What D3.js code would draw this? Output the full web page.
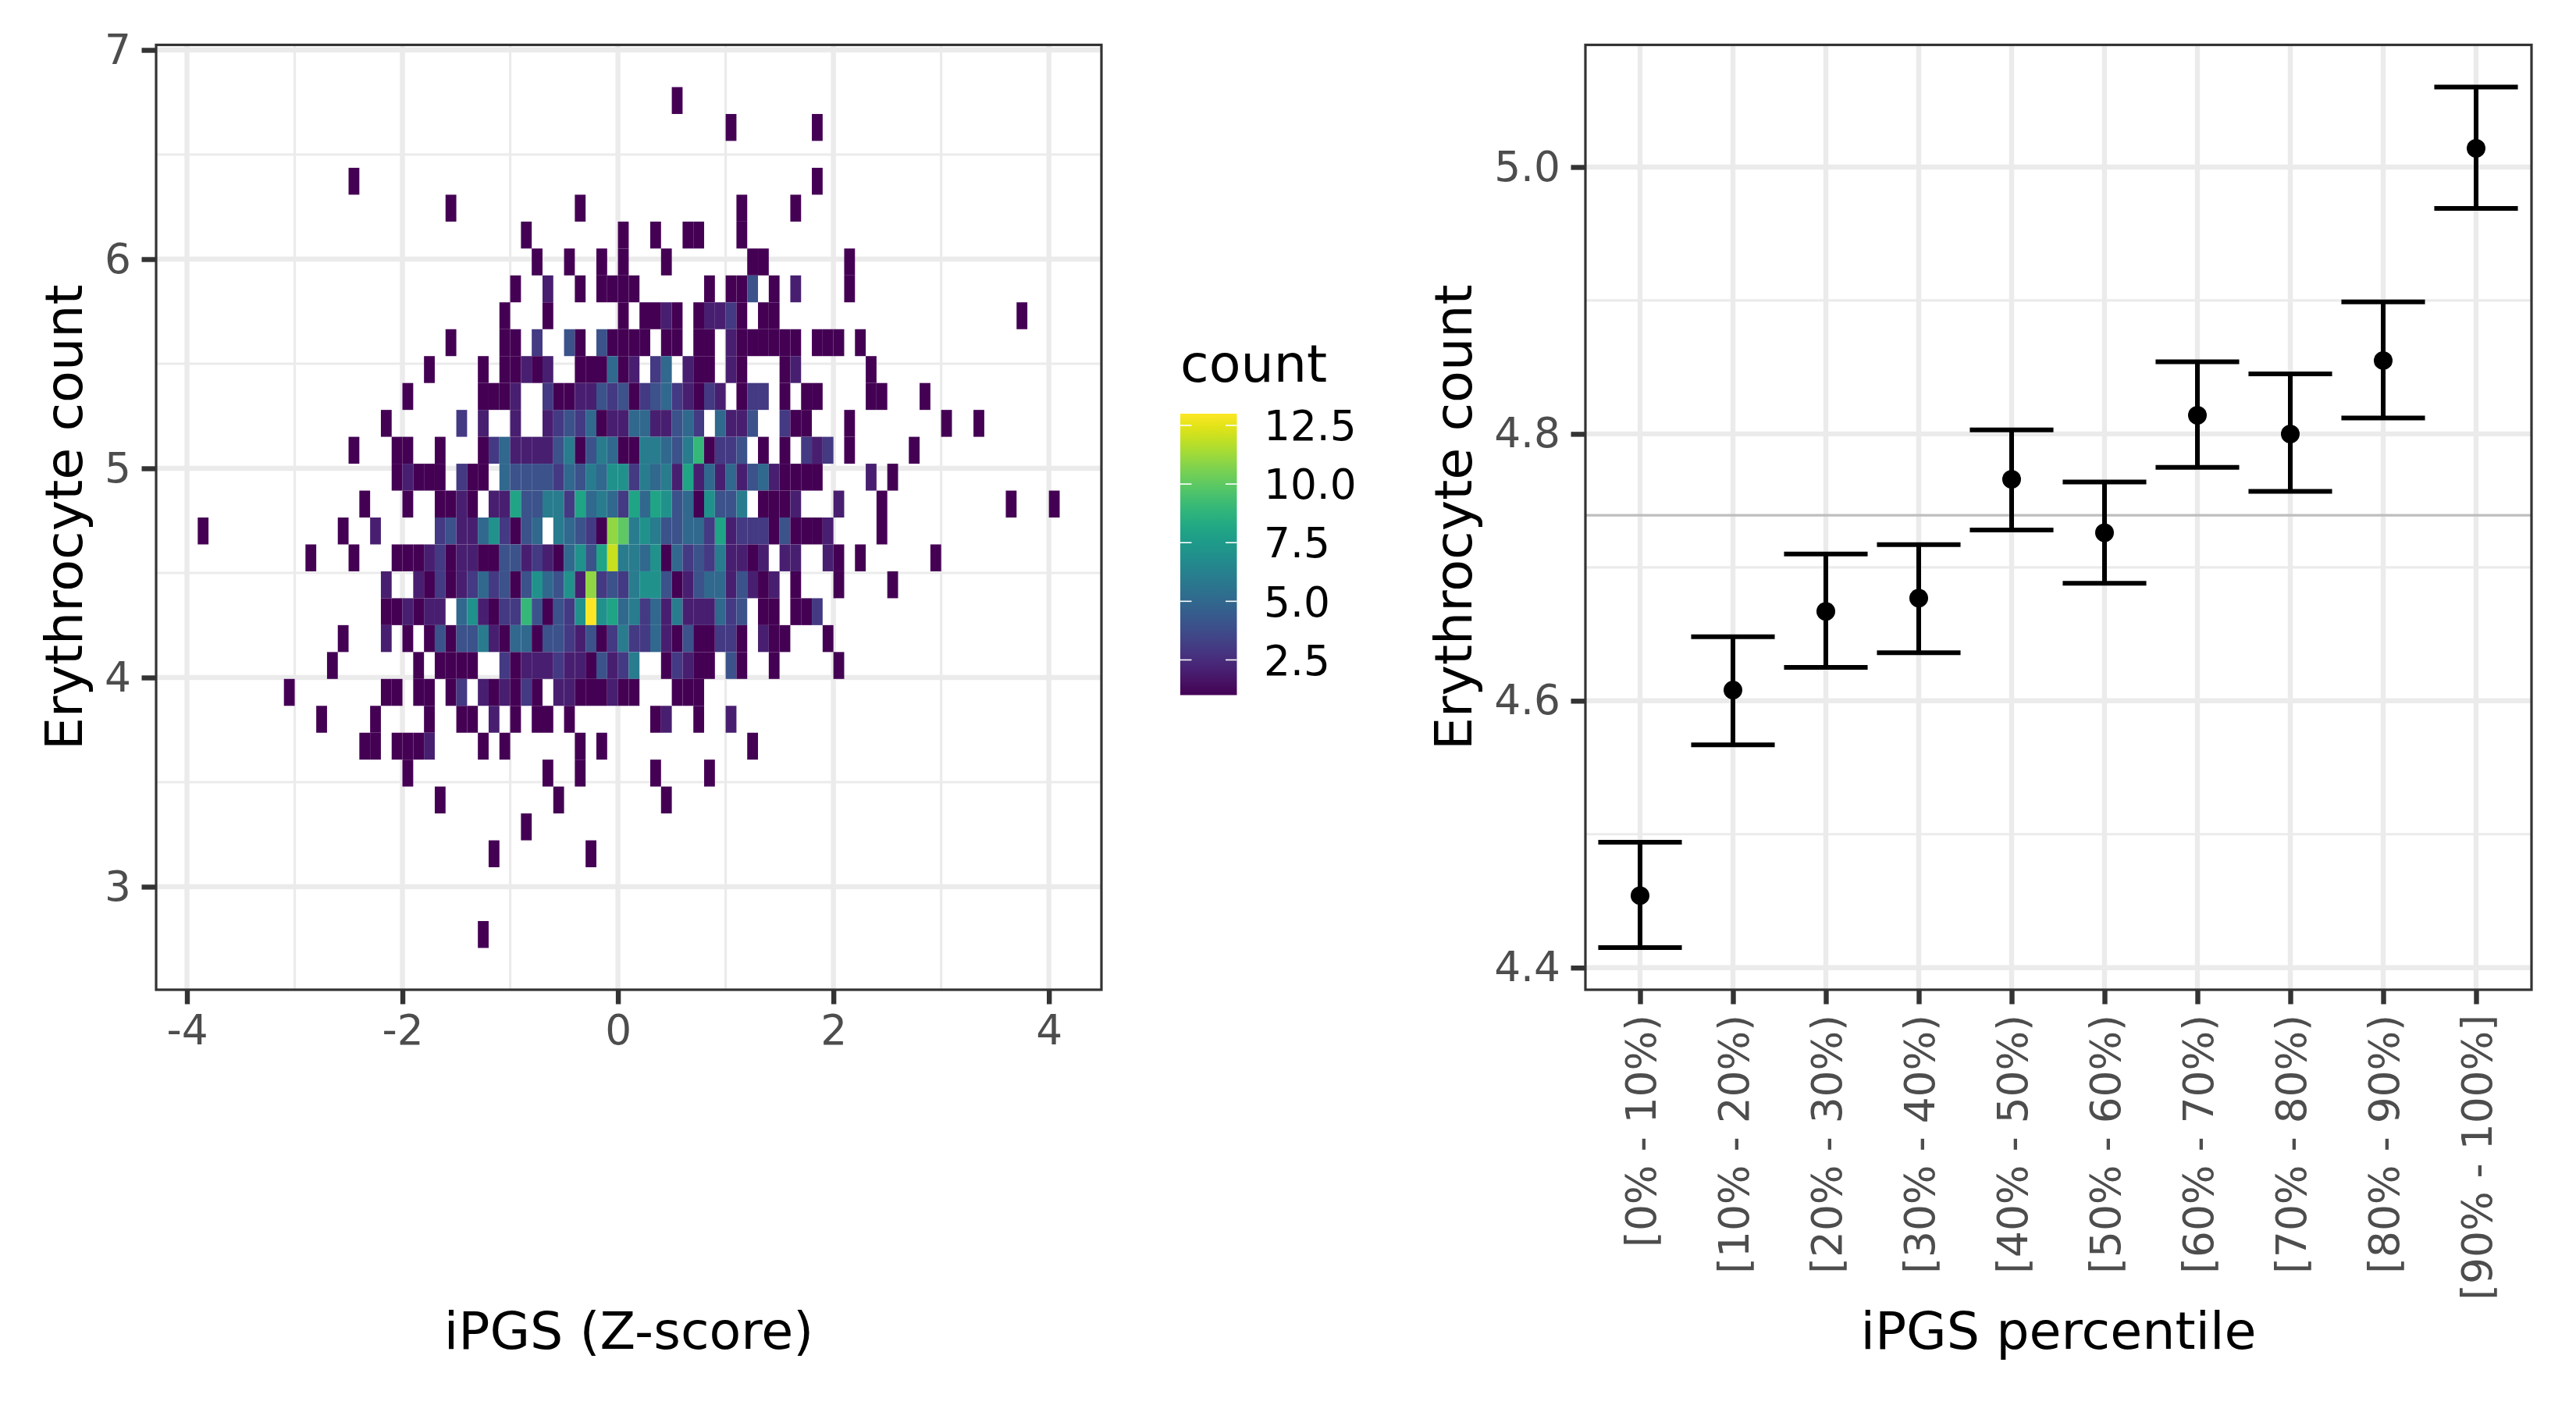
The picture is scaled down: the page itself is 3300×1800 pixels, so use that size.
<!DOCTYPE html>
<html>
<head>
<meta charset="utf-8">
<script src="https://cdn.jsdelivr.net/npm/d3@7"></script>
<style>
html,body{margin:0;padding:0;background:#fff}
svg{display:block}
text{font-family:"DejaVu Sans",sans-serif}
</style>
</head>
<body>
<div id="chart"></div>
<script>
// ---- left panel data: one list per row of bins (top to bottom), each [column, count];
// a column c spans c/10 .. (c+1)/10 on the iPGS axis
const heatRows = [
/*00*/[[5,1]],
/*01*/[[10,1],[18,1]],
/*02*/[],
/*03*/[[-25,1],[18,1]],
/*04*/[[-16,1],[-4,1],[11,1],[16,1]],
/*05*/[[-9,1],[0,1],[3,1],[6,1],[7,1],[11,1]],
/*06*/[[-8,1],[-5,1],[-2,1],[0,1],[4,1],[12,1],[13,1],[21,1]],
/*07*/[[-10,1],[-7,2],[-4,1],[-2,1],[-1,1],[0,1],[1,1],[8,1],[10,1],[11,1],[12,4],[14,1],[16,2],[21,1]],
/*08*/[[-11,1],[-7,1],[0,1],[2,1],[3,1],[4,2],[5,1],[7,1],[8,2],[9,2],[10,3],[11,1],[13,1],[14,1],[37,1]],
/*09*/[[-16,1],[-11,1],[-10,1],[-8,3],[-5,4],[-4,1],[-2,4],[-1,1],[0,1],[1,1],[2,1],[4,1],[5,1],[7,1],[8,1],[10,2],[11,1],[12,1],[13,1],[14,1],[15,1],[16,1],[18,1],[19,1],[20,1],[22,1]],
/*10*/[[-18,1],[-13,1],[-11,1],[-10,1],[-9,2],[-8,1],[-7,2],[-4,1],[-3,1],[-2,1],[-1,5],[0,1],[1,2],[3,3],[4,5],[6,2],[7,1],[8,1],[10,2],[11,1],[15,1],[16,2],[23,1]],
/*11*/[[-20,1],[-13,1],[-12,1],[-11,1],[-10,2],[-7,3],[-6,1],[-5,1],[-4,2],[-3,2],[-2,4],[-1,3],[0,4],[1,1],[2,3],[3,4],[4,5],[5,3],[6,2],[7,1],[8,3],[9,2],[11,1],[12,3],[13,3],[15,1],[17,1],[18,1],[23,1],[24,1],[28,1]],
/*12*/[[-22,1],[-15,3],[-13,2],[-10,2],[-7,2],[-6,3],[-5,4],[-4,3],[-3,5],[-2,1],[-1,2],[0,2],[1,5],[2,5],[3,2],[4,2],[5,4],[6,5],[7,3],[9,5],[10,2],[11,2],[12,4],[15,3],[16,1],[17,1],[21,1],[30,1],[33,1]],
/*13*/[[-25,1],[-21,1],[-20,1],[-17,1],[-13,1],[-12,3],[-11,5],[-10,2],[-9,2],[-8,2],[-7,2],[-6,4],[-5,6],[-4,1],[-3,4],[-2,6],[-1,5],[0,1],[1,1],[2,6],[3,6],[4,5],[5,4],[6,6],[7,9],[8,1],[9,3],[10,3],[11,4],[13,1],[15,1],[17,3],[18,2],[19,3],[21,1],[27,1]],
/*14*/[[-21,1],[-20,2],[-19,1],[-18,1],[-17,1],[-15,3],[-14,1],[-13,1],[-11,5],[-10,4],[-9,4],[-8,4],[-7,4],[-6,3],[-5,5],[-4,4],[-3,6],[-2,5],[-1,7],[0,7],[1,3],[2,6],[3,5],[4,6],[5,2],[6,8],[7,2],[8,5],[9,2],[10,5],[11,2],[12,4],[13,5],[14,2],[15,1],[16,1],[17,1],[18,1],[23,2],[25,1]],
/*15*/[[-24,1],[-20,1],[-17,1],[-16,1],[-15,2],[-14,1],[-12,2],[-11,2],[-10,8],[-9,4],[-8,4],[-7,6],[-6,6],[-5,3],[-4,8],[-3,5],[-2,6],[-1,5],[0,3],[1,8],[2,5],[3,8],[4,7],[5,4],[6,5],[7,1],[8,7],[9,4],[10,4],[11,6],[13,1],[14,1],[15,1],[16,2],[20,2],[24,1],[36,1],[40,1]],
/*16*/[[-39,1],[-26,1],[-23,2],[-17,3],[-16,4],[-15,2],[-14,2],[-13,5],[-12,7],[-11,3],[-10,1],[-9,4],[-8,5],[-6,6],[-5,5],[-4,4],[-3,3],[-2,1],[-1,11],[0,10],[1,6],[2,7],[3,6],[4,4],[5,4],[6,5],[7,5],[8,3],[9,8],[10,2],[11,3],[12,3],[13,3],[14,1],[15,4],[16,1],[17,1],[18,1],[19,2],[24,1]],
/*17*/[[-29,1],[-25,1],[-21,1],[-20,1],[-19,1],[-18,2],[-17,3],[-16,1],[-15,2],[-14,2],[-13,1],[-12,1],[-11,4],[-10,4],[-9,2],[-8,3],[-7,2],[-6,1],[-5,5],[-4,7],[-3,4],[-2,8],[-1,12],[0,6],[1,6],[2,5],[3,7],[4,1],[5,5],[6,3],[7,4],[8,3],[9,6],[10,2],[11,2],[12,1],[13,2],[15,2],[16,2],[19,2],[20,1],[22,1],[29,1]],
/*18*/[[-22,2],[-19,2],[-18,1],[-17,3],[-16,1],[-15,2],[-14,3],[-13,5],[-12,3],[-11,4],[-10,1],[-9,4],[-8,7],[-7,5],[-6,4],[-5,7],[-4,2],[-3,11],[-2,3],[-1,4],[0,3],[1,6],[2,7],[3,7],[4,4],[5,1],[6,2],[7,4],[8,5],[9,5],[10,2],[11,4],[12,2],[13,1],[14,2],[16,1],[20,1],[25,1]],
/*19*/[[-22,1],[-21,1],[-20,2],[-19,1],[-18,2],[-17,2],[-15,5],[-14,7],[-13,2],[-12,1],[-11,3],[-10,3],[-9,9],[-8,4],[-7,1],[-6,4],[-5,3],[-4,7],[-3,13],[-2,7],[-1,8],[0,5],[1,6],[2,3],[3,5],[4,2],[5,6],[6,2],[7,2],[8,2],[9,5],[10,3],[11,4],[13,1],[14,1],[16,1],[17,1],[18,3]],
/*20*/[[-26,1],[-22,2],[-20,1],[-18,1],[-17,4],[-16,1],[-15,4],[-14,4],[-13,6],[-12,2],[-11,1],[-10,5],[-9,5],[-8,1],[-7,4],[-6,4],[-5,3],[-4,2],[-3,4],[-2,1],[-1,3],[0,6],[1,3],[2,3],[3,5],[4,2],[5,1],[6,4],[7,1],[8,1],[9,3],[10,3],[11,1],[13,2],[14,1],[15,1],[19,1]],
/*21*/[[-27,1],[-19,1],[-17,1],[-16,1],[-15,1],[-14,1],[-11,3],[-10,1],[-9,2],[-8,2],[-7,2],[-6,3],[-5,2],[-4,2],[-3,1],[-2,4],[-1,2],[0,3],[1,6],[4,1],[5,3],[6,2],[7,1],[8,1],[10,4],[11,1],[14,1],[20,1]],
/*22*/[[-31,1],[-22,1],[-21,1],[-19,1],[-18,1],[-16,1],[-15,3],[-13,2],[-12,1],[-11,2],[-10,1],[-9,3],[-8,1],[-6,2],[-5,2],[-4,1],[-3,1],[-2,1],[-1,2],[0,1],[1,1],[5,1],[6,1],[7,1]],
/*23*/[[-28,1],[-23,1],[-18,1],[-15,1],[-14,1],[-12,2],[-10,1],[-8,1],[-7,1],[-5,1],[3,1],[4,2],[7,1],[10,2]],
/*24*/[[-24,1],[-23,1],[-21,1],[-20,1],[-19,1],[-18,2],[-13,1],[-11,1],[-4,1],[-2,1],[12,1]],
/*25*/[[-20,1],[-7,1],[-4,1],[3,1],[8,1]],
/*26*/[[-17,1],[-6,1],[4,1]],
/*27*/[[-9,1]],
/*28*/[[-12,1],[-3,1]],
/*29*/[],
/*30*/[],
/*31*/[[-13,1]]
];
const binTop = 6.8225, binHeight = 0.1286, binWidth = 0.1;
const heatXTicks = [-4,-2,0,2,4], heatXMinor = [-3,-1,1,3];
const heatYTicks = [3,4,5,6,7], heatYMinor = [3.5,4.5,5.5,6.5];
const legendTicks = [2.5,5,7.5,10,12.5];
const legendLimits = [1,13];

// ---- right panel data
const percentileLabels = ["[0% - 10%)","[10% - 20%)","[20% - 30%)","[30% - 40%)","[40% - 50%)","[50% - 60%)","[60% - 70%)","[70% - 80%)","[80% - 90%)","[90% - 100%]"];
const meanValues = [4.454,4.608,4.667,4.677,4.766,4.726,4.814,4.800,4.855,5.014];
const lowerValues = [4.415,4.567,4.625,4.636,4.728,4.688,4.775,4.757,4.812,4.969];
const upperValues = [4.494,4.648,4.710,4.717,4.803,4.764,4.854,4.845,4.899,5.060];
const overallMean = 4.739;
const meanYTicks = [4.4,4.6,4.8,5.0], meanYMinor = [4.5,4.7,4.9];

const W = 3300, H = 1800;
const svg = d3.select("#chart").append("svg").attr("width",W).attr("height",H).attr("viewBox",`0 0 ${W} ${H}`);
const GRID="#EBEBEB", MAJOR=6.4, MINOR=3.2, BORDER="#333333", TICKTXT="#4D4D4D";
const TICKFONT=53.33, TITLEFONT=66.67;
const TICKLEN=18.5, TICKPAD=13.5;

function panelFrame(g,box){
  g.append("rect").attr("x",box.l).attr("y",box.t).attr("width",box.r-box.l).attr("height",box.b-box.t)
    .attr("fill","none").attr("stroke",BORDER).attr("stroke-width",3.2);
}
function grid(g,box,xs,ys){
  g.selectAll(null).data(xs).join("line").attr("x1",d=>d.x).attr("x2",d=>d.x).attr("y1",box.t).attr("y2",box.b)
    .attr("stroke",GRID).attr("stroke-width",d=>d.w);
  g.selectAll(null).data(ys).join("line").attr("y1",d=>d.y).attr("y2",d=>d.y).attr("x1",box.l).attr("x2",box.r)
    .attr("stroke",GRID).attr("stroke-width",d=>d.w);
}
function styleAxis(a){
  a.select(".domain").remove();
  a.selectAll(".tick line").attr("stroke",BORDER).attr("stroke-width",6.4);
  a.selectAll(".tick text").attr("fill",TICKTXT).style("font-size",TICKFONT+"px").style("font-family",'"DejaVu Sans"');
}

// ================= LEFT =================
const LB={l:200,r:1411,t:57.5,b:1268};
const xL=d3.scaleLinear().domain([-4,4]).range([239.5,1343.7]);
const yL=d3.scaleLinear().domain([3,7]).range([1136,64]);
const colour=d3.scaleSequential(d3.interpolateViridis).domain(legendLimits);
const gL=svg.append("g");
grid(gL,LB,
  heatXMinor.map(v=>({x:xL(v),w:MINOR})).concat(heatXTicks.map(v=>({x:xL(v),w:MAJOR}))),
  heatYMinor.map(v=>({y:yL(v),w:MINOR})).concat(heatYTicks.map(v=>({y:yL(v),w:MAJOR}))));
const cells=heatRows.flatMap((row,r)=>row.map(([c,n])=>({c,n,r})));
gL.selectAll("rect.cell").data(cells).join("rect").attr("class","cell")
  .attr("x",d=>xL(d.c*binWidth))
  .attr("width",d=>xL((d.c+1)*binWidth)-xL(d.c*binWidth))
  .attr("y",d=>yL(binTop-d.r*binHeight))
  .attr("height",d=>yL(binTop-(d.r+1)*binHeight)-yL(binTop-d.r*binHeight))
  .attr("fill",d=>colour(d.n));
panelFrame(gL,LB);
const axXL=svg.append("g").attr("transform",`translate(0,${LB.b})`)
  .call(d3.axisBottom(xL).tickValues(heatXTicks).tickSize(TICKLEN).tickPadding(TICKPAD).tickFormat(d=>d<0?"-"+Math.abs(d):d));
styleAxis(axXL);
const axYL=svg.append("g").attr("transform",`translate(${LB.l},0)`)
  .call(d3.axisLeft(yL).tickValues(heatYTicks).tickSize(TICKLEN).tickPadding(TICKPAD).tickFormat(d3.format("d")));
styleAxis(axYL);
svg.append("text").attr("x",(LB.l+LB.r)/2).attr("y",1728).attr("text-anchor","middle").style("font-size",TITLEFONT+"px").attr("fill","#000").text("iPGS (Z-score)");
svg.append("text").attr("transform",`translate(104.5,${(LB.t+LB.b)/2}) rotate(-90)`).attr("text-anchor","middle").style("font-size",TITLEFONT+"px").attr("fill","#000").text("Erythrocyte count");

// legend
const LG={l:1512,r:1584.5,t:530,b:890.5};
const yLeg=d3.scaleLinear().domain(legendLimits).range([LG.b,LG.t]);
const defs=svg.append("defs");
const lg=defs.append("linearGradient").attr("id","vir").attr("x1",0).attr("x2",0).attr("y1",1).attr("y2",0);
d3.range(0,1.0001,0.05).forEach(t=>lg.append("stop").attr("offset",t).attr("stop-color",d3.interpolateViridis(t)));
svg.append("rect").attr("x",LG.l).attr("y",LG.t).attr("width",LG.r-LG.l).attr("height",LG.b-LG.t).attr("fill","url(#vir)");
const legG=svg.append("g");
legG.selectAll("line.a").data(legendTicks).join("line").attr("class","a").attr("x1",LG.l).attr("x2",LG.l+14.5).attr("y1",d=>yLeg(d)).attr("y2",d=>yLeg(d)).attr("stroke","#fff").attr("stroke-width",1.6);
legG.selectAll("line.b").data(legendTicks).join("line").attr("class","b").attr("x1",LG.r-14.5).attr("x2",LG.r).attr("y1",d=>yLeg(d)).attr("y2",d=>yLeg(d)).attr("stroke","#fff").attr("stroke-width",1.6);
legG.selectAll("text").data(legendTicks).join("text").attr("x",1619).attr("y",d=>yLeg(d)).attr("dy","0.36em").style("font-size",TICKFONT+"px").attr("fill","#000").text(d=>d.toFixed(1));
svg.append("text").attr("x",1512).attr("y",489).style("font-size",TITLEFONT+"px").attr("fill","#000").text("count");

// ================= RIGHT =================
const RB={l:2031,r:3243,t:57.5,b:1268};
const xR=d3.scalePoint().domain(percentileLabels).range([2101,3172]);
const yR=d3.scaleLinear().domain([4.4,5.0]).range([1239.7,214]);
const gR=svg.append("g");
grid(gR,RB,
  percentileLabels.map(v=>({x:xR(v),w:MAJOR})),
  meanYMinor.map(v=>({y:yR(v),w:MINOR})).concat(meanYTicks.map(v=>({y:yR(v),w:MAJOR}))));
gR.append("line").attr("x1",RB.l).attr("x2",RB.r).attr("y1",yR(overallMean)).attr("y2",yR(overallMean)).attr("stroke","#BEBEBE").attr("stroke-width",3.2);
const bars=percentileLabels.map((p,i)=>({p,m:meanValues[i],lo:lowerValues[i],hi:upperValues[i]}));
const capW=0.9*xR.step(), BARW=6;
gR.selectAll("line.v").data(bars).join("line").attr("class","v").attr("x1",d=>xR(d.p)).attr("x2",d=>xR(d.p)).attr("y1",d=>yR(d.lo)).attr("y2",d=>yR(d.hi)).attr("stroke","#000").attr("stroke-width",BARW);
gR.selectAll("line.lo").data(bars).join("line").attr("class","lo").attr("x1",d=>xR(d.p)-capW/2).attr("x2",d=>xR(d.p)+capW/2).attr("y1",d=>yR(d.lo)).attr("y2",d=>yR(d.lo)).attr("stroke","#000").attr("stroke-width",BARW);
gR.selectAll("line.hi").data(bars).join("line").attr("class","hi").attr("x1",d=>xR(d.p)-capW/2).attr("x2",d=>xR(d.p)+capW/2).attr("y1",d=>yR(d.hi)).attr("y2",d=>yR(d.hi)).attr("stroke","#000").attr("stroke-width",BARW);
gR.selectAll("circle").data(bars).join("circle").attr("cx",d=>xR(d.p)).attr("cy",d=>yR(d.m)).attr("r",12).attr("fill","#000");
panelFrame(gR,RB);
const axXR=svg.append("g").attr("transform",`translate(0,${RB.b})`)
  .call(d3.axisBottom(xR).tickSize(TICKLEN));
styleAxis(axXR);
axXR.selectAll(".tick text").attr("transform","rotate(-90)").attr("text-anchor","end").attr("x",-32).attr("y",0).attr("dy","0.36em");
const axYR=svg.append("g").attr("transform",`translate(${RB.l},0)`)
  .call(d3.axisLeft(yR).tickValues(meanYTicks).tickSize(TICKLEN).tickPadding(TICKPAD).tickFormat(d3.format(".1f")));
styleAxis(axYR);
svg.append("text").attr("x",(RB.l+RB.r)/2).attr("y",1728).attr("text-anchor","middle").style("font-size",TITLEFONT+"px").attr("fill","#000").text("iPGS percentile");
svg.append("text").attr("transform",`translate(1884.5,${(RB.t+RB.b)/2}) rotate(-90)`).attr("text-anchor","middle").style("font-size",TITLEFONT+"px").attr("fill","#000").text("Erythrocyte count");
</script>
</body>
</html>
